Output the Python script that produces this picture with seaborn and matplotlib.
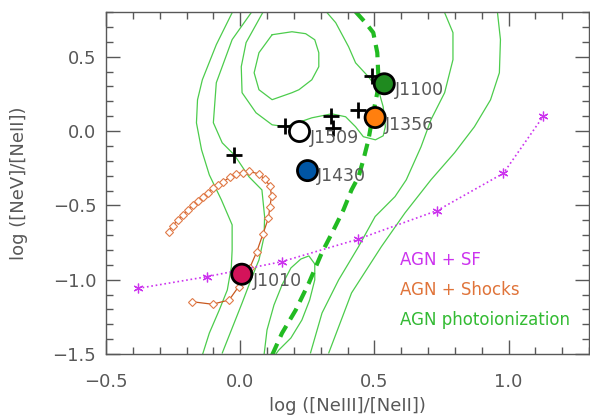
import numpy as np
import matplotlib
matplotlib.use("Agg")
import matplotlib.pyplot as plt
import seaborn as sns

sns.set_theme(style="ticks")
plt.rcParams['font.family'] = ['DejaVu Sans']

GREY = '#585858'

# galaxies
gal_names = ['J1100', 'J1356', 'J1509', 'J1430', 'J1010']
gal_x = [0.537, 0.503, 0.221, 0.251, 0.006]
gal_y = [0.318, 0.091, -0.003, -0.266, -0.963]
gal_colors = ['#1f8a1f', '#ff7f0e', '#ffffff', '#0055a4', '#d4135a']
lab_x = [0.577, 0.541, 0.258, 0.286, 0.048]
lab_y = [0.273, 0.042, -0.048, -0.301, -1.008]

# other objects (crosses)
plus_x = [-0.022, 0.167, 0.340, 0.346, 0.438, 0.493]
plus_y = [-0.160, 0.031, 0.098, 0.020, 0.143, 0.367]

# AGN + SF mixing sequence
sf_x = [-0.380, -0.125, 0.154, 0.438, 0.734, 0.981, 1.129]
sf_y = [-1.058, -0.980, -0.879, -0.728, -0.535, -0.284, 0.098]

# AGN + shocks model track
sh_x = [-0.179, -0.103, -0.041, -0.006, 0.036, 0.062, 0.085, 0.105, 0.111, 0.117,
        0.111, 0.091, 0.070, 0.033, 0.011, -0.016, -0.038, -0.063, -0.084, -0.103,
        -0.121, -0.140, -0.158, -0.177, -0.195, -0.214, -0.232, -0.251, -0.267]
sh_y = [-1.148, -1.165, -1.136, -1.047, -0.919, -0.811, -0.692, -0.586, -0.508, -0.436,
        -0.369, -0.324, -0.288, -0.272, -0.279, -0.288, -0.310, -0.340, -0.362, -0.384,
        -0.414, -0.441, -0.468, -0.497, -0.530, -0.563, -0.597, -0.637, -0.676]

# AGN photoionization density contours
c1_x = [0.119, 0.193, 0.244, 0.278, 0.293, 0.293, 0.267, 0.219, 0.193, 0.119, 0.070, 0.052, 0.070, 0.119]
c1_y = [0.648, 0.668, 0.655, 0.614, 0.527, 0.433, 0.345, 0.278, 0.258, 0.211, 0.278, 0.392, 0.527, 0.648]

c2_x = [0.085, 0.022, 0.004, 0.007, 0.059, 0.119, 0.170, 0.267, 0.341, 0.393, 0.430,
        0.459, 0.504, 0.533, 0.541, 0.533, 0.515, 0.478, 0.430, 0.404, 0.356, 0.322]
c2_y = [0.80, 0.595, 0.433, 0.258, 0.123, 0.042, 0.029, 0.089, 0.116, 0.096, 0.029,
        -0.038, -0.059, -0.032, 0.029, 0.163, 0.278, 0.365, 0.459, 0.567, 0.729, 0.80]

c3_x = [-0.030, -0.089, -0.141, -0.159, -0.163, -0.144, -0.115, -0.070, -0.030, -0.030,
        -0.033, -0.048, -0.078, -0.115, -0.141]
c3_y = [0.796, 0.581, 0.345, 0.210, 0.055, -0.126, -0.295, -0.463, -0.631, -0.800,
        -0.915, -1.069, -1.204, -1.359, -1.507]

c4_x = [0.041, -0.030, -0.089, -0.100, -0.067, -0.022, 0.033, 0.081, 0.091, 0.089,
        0.070, 0.044, 0.007, -0.067]
c4_y = [0.796, 0.615, 0.325, 0.056, -0.079, -0.160, -0.308, -0.396, -0.575, -0.710,
        -0.867, -0.982, -1.157, -1.494]

c5_x = [0.762, 0.793, 0.793, 0.762, 0.711, 0.674, 0.619, 0.577, 0.503, 0.441, 0.367, 0.305, 0.262]
c5_y = [0.796, 0.662, 0.480, 0.258, 0.076, -0.106, -0.328, -0.441, -0.575, -0.778, -1.001, -1.224, -1.493]

c6_x = [0.959, 0.970, 0.966, 0.933, 0.873, 0.799, 0.711, 0.614, 0.526, 0.415, 0.330]
c6_y = [0.796, 0.615, 0.392, 0.210, 0.029, -0.146, -0.328, -0.551, -0.778, -1.089, -1.493]

c7_x = [0.089, 0.100, 0.126, 0.156, 0.189, 0.226, 0.256, 0.278, 0.278, 0.259, 0.230, 0.189, 0.144, 0.130]
c7_y = [-1.505, -1.338, -1.170, -1.035, -0.921, -0.861, -0.840, -0.894, -1.001, -1.136, -1.271, -1.392, -1.473, -1.507]

# thick dashed ridge line
rd_x = [0.430, 0.467, 0.496, 0.511, 0.515, 0.511, 0.496, 0.478, 0.459, 0.441, 0.415,
        0.385, 0.348, 0.304, 0.256, 0.207, 0.156, 0.119]
rd_y = [0.803, 0.729, 0.662, 0.527, 0.365, 0.258, 0.123, -0.059, -0.194, -0.308, -0.396,
        -0.530, -0.665, -0.820, -1.022, -1.204, -1.359, -1.507]

legend_labels = ['AGN + SF', 'AGN + Shocks', 'AGN photoionization']
legend_colors = ['#cc33ee', '#e0743a', '#33bb33']

fig = plt.figure(figsize=(5.9, 4.18), dpi=100)
ax = fig.add_axes([0.1797, 0.153, 0.8186, 0.818])

for cx, cy in [(c1_x, c1_y), (c2_x, c2_y), (c3_x, c3_y), (c4_x, c4_y),
               (c5_x, c5_y), (c6_x, c6_y), (c7_x, c7_y)]:
    sns.lineplot(x=cx, y=cy, sort=False, estimator=None, color='#4ccc4c', lw=0.9, ax=ax)

sns.lineplot(x=rd_x, y=rd_y, sort=False, estimator=None, color='#22bb22', lw=3,
             linestyle=(0, (3, 1.8)), ax=ax)

sns.lineplot(x=sh_x, y=sh_y, sort=False, estimator=None, color='#c8581e', lw=0.9,
             marker='D', markersize=4.5, markerfacecolor='white',
             markeredgecolor='#e07a48', markeredgewidth=0.8, ax=ax)

sns.lineplot(x=sf_x, y=sf_y, sort=False, estimator=None, color='#cc33ee', lw=1.2,
             linestyle=':', marker=(6, 2, 0), markersize=7,
             markeredgecolor='#cc33ee', markeredgewidth=0.9, ax=ax)

sns.scatterplot(x=plus_x, y=plus_y, marker='+', s=120, color='black', linewidth=2, ax=ax, zorder=5)

sns.scatterplot(x=gal_x, y=gal_y, hue=gal_names, palette=dict(zip(gal_names, gal_colors)),
                s=210, edgecolor='black', linewidth=2, legend=False, ax=ax, zorder=6)

for name, lx, ly in zip(gal_names, lab_x, lab_y):
    ax.text(lx, ly, name, fontsize=12.5, color=GREY, va='center', ha='left', zorder=7)

for i, (lab, col) in enumerate(zip(legend_labels, legend_colors)):
    ax.text(0.594, -0.867 - 0.202 * i, lab, fontsize=12, color=col, va='center', ha='left')

ax.set_xlim(-0.5, 1.3)
ax.set_ylim(-1.5, 0.8)
ax.set_xticks([-0.5, 0.0, 0.5, 1.0])
ax.set_yticks([-1.5, -1.0, -0.5, 0.0, 0.5])
ax.set_xticklabels(['\u22120.5', '0.0', '0.5', '1.0'])
ax.set_yticklabels(['\u22121.5', '\u22121.0', '\u22120.5', '0.0', '0.5'])
ax.xaxis.set_minor_locator(matplotlib.ticker.MultipleLocator(0.1))
ax.yaxis.set_minor_locator(matplotlib.ticker.MultipleLocator(0.1))
ax.tick_params(which='both', direction='in', top=True, right=True, colors=GREY,
               labelsize=13, width=1)
ax.tick_params(which='major', length=10)
ax.tick_params(which='minor', length=5)
ax.tick_params(axis='x', which='major', pad=14)
ax.tick_params(axis='y', which='major', pad=7)
for sp in ax.spines.values():
    sp.set_color(GREY)
    sp.set_linewidth(1)
ax.set_xlabel('log ([NeIII]/[NeII])', fontsize=13, color=GREY, labelpad=4)
ax.set_ylabel('log ([NeV]/[NeII])', fontsize=13, color=GREY, labelpad=18)
ax.set_facecolor('white')

fig.savefig('out.png', dpi=100)
